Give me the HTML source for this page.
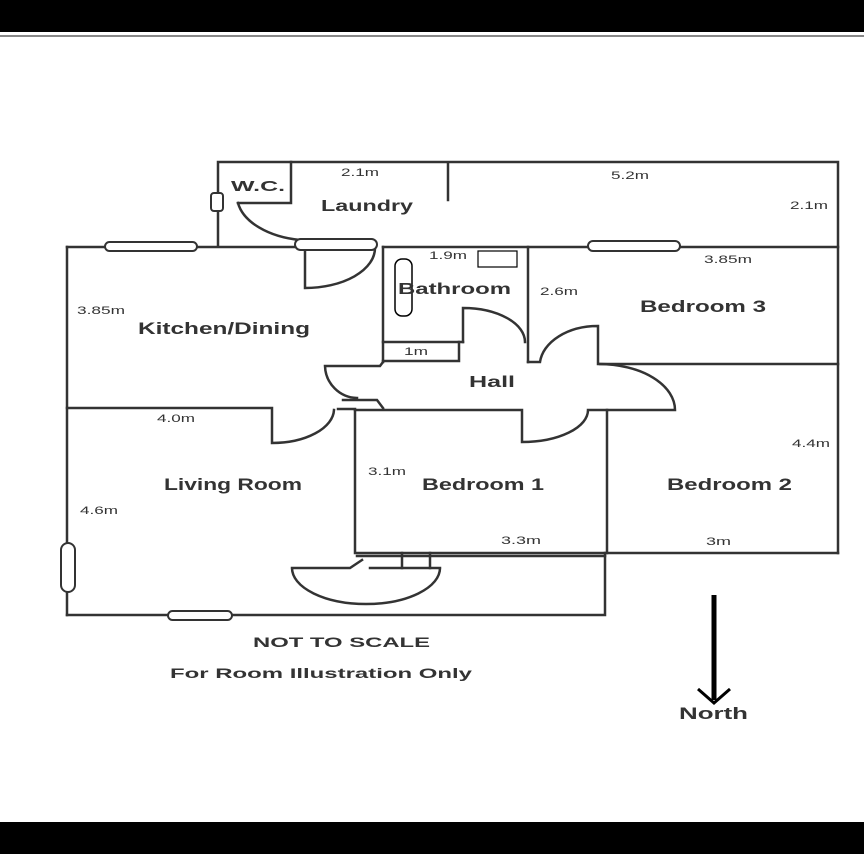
<!DOCTYPE html>
<html><head><style>
html,body{margin:0;padding:0;background:#fff;}
svg{display:block;}
text{font-family:"Liberation Sans",sans-serif;fill:#333;}
</style></head><body>
<svg width="864" height="854" viewBox="0 0 864 854" xmlns="http://www.w3.org/2000/svg">
<rect x="0" y="0" width="864" height="32" fill="#000"/>
<rect x="0" y="822" width="864" height="32" fill="#000"/>
<line x1="0" y1="36" x2="864" y2="36" stroke="#888" stroke-width="2"/>
<g stroke="#333" stroke-width="2.5" fill="none" stroke-linecap="square">
<path d="M218 245 V162 H838 V553"/>
<path d="M291 162 V203 H238"/>
<line x1="448" y1="163" x2="448" y2="200"/>
<line x1="67" y1="247" x2="375" y2="247"/>
<line x1="528" y1="247" x2="838" y2="247"/>
<line x1="67" y1="247" x2="67" y2="615"/>
<path d="M383 247 H528 V362"/>
<path d="M383 247 V362"/>
<path d="M383 342 H463"/>
<path d="M383 361 H459 V342"/>
<path d="M463 342 V308 A62 34 0 0 1 525 342"/>
<path d="M528 362 H540 A58 40 0 0 1 598 326 V364 H838"/>
<path d="M600 364 A76 46 0 0 1 675 410 H607 V553"/>
<path d="M355 410 V553 H838"/>
<path d="M355 410 H522 V442 A66 32 0 0 0 588 410 H607"/>
<path d="M338 409 H355"/>
<path d="M305 250 V288 A70 40 0 0 0 375 248"/>
<path d="M383 362 L380 366 H325 A33 33 0 0 0 357 398"/>
<path d="M343 400 H377 L383 408"/>
<path d="M67 408 H272 V443 A62 34 0 0 0 334 410"/>
<path d="M67 615 H605 V553"/>
<path d="M292 568 H350 L362 560 M370 568 H440 M292 568 A74 36 0 0 0 440 568"/>
<path d="M357 556 H605 M402 553 V568 M430 553 V568"/>
<path d="M238 203 A75 45 0 0 0 300 240"/>
</g>
<g stroke="#333" stroke-width="2" fill="#fff">
<rect x="105" y="242" width="92" height="9" rx="4.5"/>
<rect x="295" y="239" width="82" height="11" rx="5.5"/>
<rect x="588" y="241" width="92" height="10" rx="5"/>
<rect x="61" y="543" width="14" height="49" rx="7"/>
<rect x="168" y="611" width="64" height="9" rx="4.5"/>
<rect x="211" y="193" width="12" height="18" rx="3"/>
</g>
<rect x="395" y="259" width="17" height="57" rx="7" fill="none" stroke="#000" stroke-width="1.5"/>
<rect x="478" y="251" width="39" height="16" fill="none" stroke="#000" stroke-width="1.2"/>
<g font-weight="bold" fill="#555" lengthAdjust="spacingAndGlyphs">
<text x="231" y="191" font-size="15" textLength="54" lengthAdjust="spacingAndGlyphs">W.C.</text>
<text x="321" y="211" font-size="16" textLength="92" lengthAdjust="spacingAndGlyphs">Laundry</text>
<text x="138" y="334" font-size="17" textLength="172" lengthAdjust="spacingAndGlyphs">Kitchen/Dining</text>
<text x="398" y="294" font-size="16" textLength="113" lengthAdjust="spacingAndGlyphs">Bathroom</text>
<text x="640" y="312" font-size="17" textLength="126" lengthAdjust="spacingAndGlyphs">Bedroom 3</text>
<text x="469" y="387" font-size="16" textLength="46" lengthAdjust="spacingAndGlyphs">Hall</text>
<text x="164" y="490" font-size="17" textLength="138" lengthAdjust="spacingAndGlyphs">Living Room</text>
<text x="422" y="490" font-size="17" textLength="122" lengthAdjust="spacingAndGlyphs">Bedroom 1</text>
<text x="667" y="490" font-size="17" textLength="125" lengthAdjust="spacingAndGlyphs">Bedroom 2</text>
</g>
<g font-size="11" fill="#222">
<text x="341" y="176" textLength="38" lengthAdjust="spacingAndGlyphs">2.1m</text>
<text x="611" y="179" textLength="38" lengthAdjust="spacingAndGlyphs">5.2m</text>
<text x="790" y="209" textLength="38" lengthAdjust="spacingAndGlyphs">2.1m</text>
<text x="429" y="259" textLength="38" lengthAdjust="spacingAndGlyphs">1.9m</text>
<text x="704" y="263" textLength="48" lengthAdjust="spacingAndGlyphs">3.85m</text>
<text x="77" y="314" textLength="48" lengthAdjust="spacingAndGlyphs">3.85m</text>
<text x="540" y="295" textLength="38" lengthAdjust="spacingAndGlyphs">2.6m</text>
<text x="404" y="355" textLength="24" lengthAdjust="spacingAndGlyphs">1m</text>
<text x="157" y="422" textLength="38" lengthAdjust="spacingAndGlyphs">4.0m</text>
<text x="792" y="447" textLength="38" lengthAdjust="spacingAndGlyphs">4.4m</text>
<text x="368" y="475" textLength="38" lengthAdjust="spacingAndGlyphs">3.1m</text>
<text x="80" y="514" textLength="38" lengthAdjust="spacingAndGlyphs">4.6m</text>
<text x="501" y="544" textLength="40" lengthAdjust="spacingAndGlyphs">3.3m</text>
<text x="706" y="545" textLength="25" lengthAdjust="spacingAndGlyphs">3m</text>
</g>
<text x="253" y="647" font-size="14" font-weight="bold" fill="#222" textLength="177" lengthAdjust="spacingAndGlyphs">NOT TO SCALE</text>
<text x="170" y="678" font-size="14" font-weight="bold" fill="#222" textLength="302" lengthAdjust="spacingAndGlyphs">For Room Illustration Only</text>
<line x1="714" y1="595" x2="714" y2="700" stroke="#000" stroke-width="5"/>
<path d="M698 689 L714 703 L730 689" stroke="#000" stroke-width="3" fill="none"/>
<text x="679" y="719" font-size="17" font-weight="bold" fill="#111" textLength="69" lengthAdjust="spacingAndGlyphs">North</text>
</svg>
</body></html>
